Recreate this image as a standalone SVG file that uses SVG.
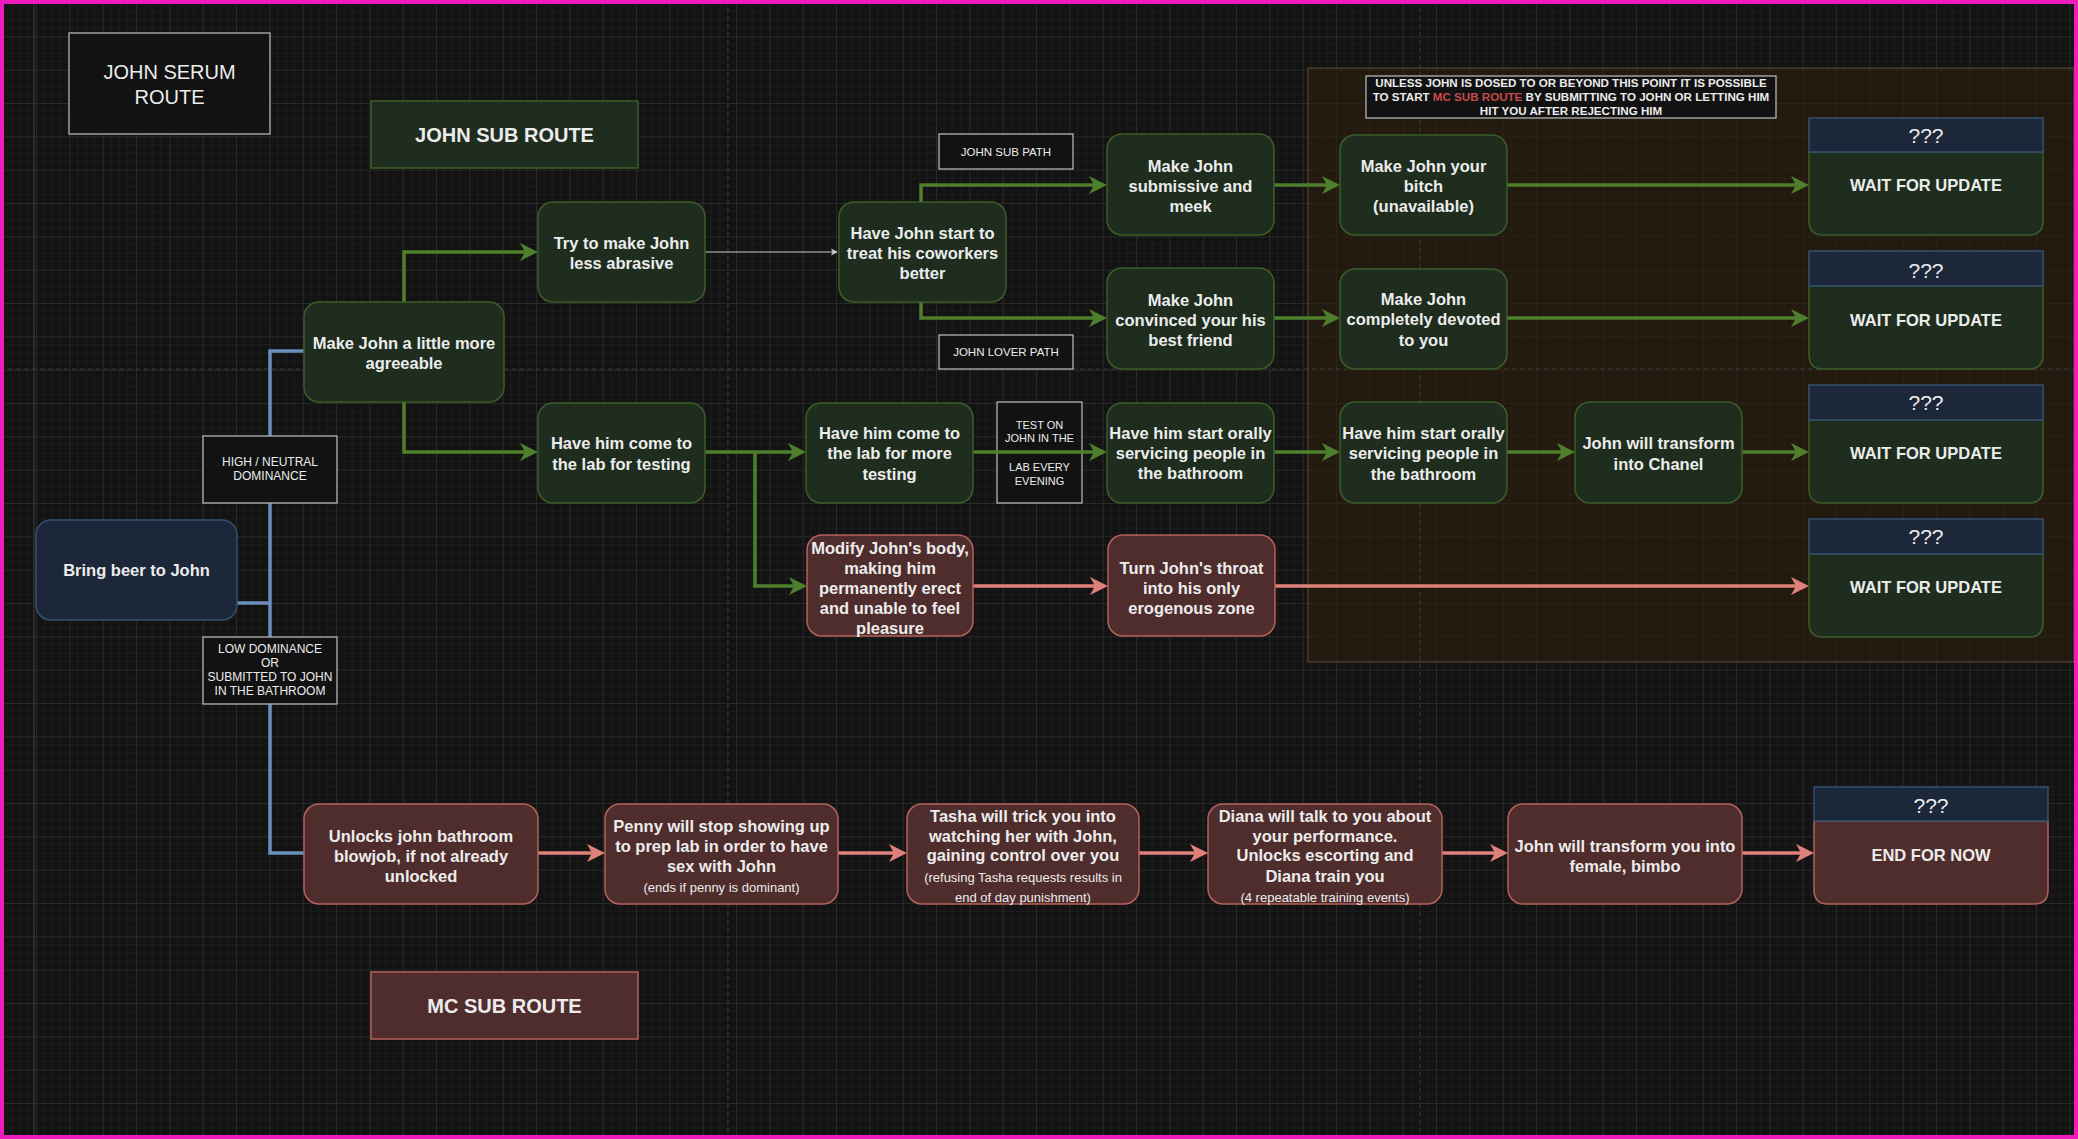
<svg xmlns="http://www.w3.org/2000/svg" width="2078" height="1139" viewBox="0 0 2078 1139">
<defs>
<pattern id="grid" width="33.333" height="33.333" patternUnits="userSpaceOnUse" x="2.67" y="3">
<rect width="33.333" height="33.333" fill="#131313"/>
<path d="M8.333,0V33.333M16.667,0V33.333M25,0V33.333M0,8.333H33.333M0,16.667H33.333M0,25H33.333" stroke="#1c1c1c" stroke-width="1" fill="none"/>
<path d="M0.5,0V33.333M0,0.5H33.333" stroke="#292929" stroke-width="1" fill="none"/>
</pattern>
<marker id="ag" markerUnits="userSpaceOnUse" markerWidth="18" markerHeight="18" refX="8" refY="9" orient="auto"><path d="M0,0L18,9L0,18L5,9Z" fill="#4d7f2d"/></marker>
<marker id="ap" markerUnits="userSpaceOnUse" markerWidth="18" markerHeight="18" refX="8" refY="9" orient="auto"><path d="M0,0L18,9L0,18L5,9Z" fill="#e0807a"/></marker>
<marker id="aw" markerUnits="userSpaceOnUse" markerWidth="8" markerHeight="8" refX="4" refY="4" orient="auto"><path d="M0,0.5L7,4L0,7.5L1.5,4Z" fill="#c8c8c8"/></marker>
<style>
.t{font-family:"Liberation Sans",Arial,Helvetica,sans-serif;fill:#ececec;text-anchor:middle}
.b{font-weight:bold;font-size:16.5px}
.s{font-size:13px}
.lbl{font-size:12px}
.g{fill:#1f2d1f;stroke:#3b5e27;stroke-width:1.5}
.p{fill:#4f2d2d;stroke:#b5625c;stroke-width:1.5}
.bl{fill:#1c2739;stroke:#34506f;stroke-width:1.5}
.k{fill:#121212;stroke:#b4b4b4;stroke-width:1.3}
.eg{fill:none;stroke:#4d7f2d;stroke-width:3.5}
.ep{fill:none;stroke:#e0807a;stroke-width:3.5}
.eb{fill:none;stroke:#6c8ebf;stroke-width:3.5}
.pg{stroke:#3a3a3a;stroke-width:1;stroke-dasharray:4 4}
</style>
</defs>
<rect x="0" y="0" width="2078" height="1139" fill="url(#grid)"/>
<line x1="34" y1="0" x2="34" y2="1139" stroke="#2b2b2b" stroke-width="2"/>

<g id="zone">
<rect x="1308" y="68" width="766" height="594" fill="#2e1f0e" fill-opacity="0.6" stroke="#4b3a30" stroke-width="1.5"/>
</g>
<g id="pagebreaks">
<line class="pg" x1="728" y1="0" x2="728" y2="1139"/>
<line class="pg" x1="1420" y1="0" x2="1420" y2="1139"/>
<line class="pg" x1="0" y1="369" x2="2078" y2="369"/>
</g>

<g id="title">
<rect class="k" x="69" y="33" width="201" height="101"/>
<text class="t" font-size="20" x="169.5" y="79">JOHN SERUM</text>
<text class="t" font-size="20" x="169.5" y="104">ROUTE</text>
</g>
<g id="john-sub-route">
<rect class="g" x="371" y="101" width="267" height="67"/>
<text class="t" font-size="20" font-weight="bold" x="504.5" y="142">JOHN SUB ROUTE</text>
</g>
<g id="mc-sub-route">
<rect class="p" x="371" y="972" width="267" height="67"/>
<text class="t" font-size="20" font-weight="bold" x="504.5" y="1013">MC SUB ROUTE</text>
</g>

<g id="label-test-on">
<rect class="k" x="997" y="402" width="85" height="101"/>
<text class="t" font-size="11" x="1039.5" y="429">TEST ON</text>
<text class="t" font-size="11" x="1039.5" y="442">JOHN IN THE</text>
<text class="t" font-size="11" x="1039.5" y="471">LAB EVERY</text>
<text class="t" font-size="11" x="1039.5" y="485">EVENING</text>
</g>

<g id="connectors">
<path class="eb" d="M237,603H270"/>
<path class="eb" d="M304,351H270V853H304"/>
<path class="eg" d="M404,302V252H528" marker-end="url(#ag)"/>
<path class="eg" d="M404,402V452H528" marker-end="url(#ag)"/>
<path class="eg" d="M705,452H796" marker-end="url(#ag)"/>
<path class="eg" d="M755,452V586H797" marker-end="url(#ag)"/>
<path d="M705,252H835" fill="none" stroke="#c8c8c8" stroke-width="1.2" marker-end="url(#aw)"/>
<path class="eg" d="M921,202V185H1097" marker-end="url(#ag)"/>
<path class="eg" d="M921,302V318H1097" marker-end="url(#ag)"/>
<path class="eg" d="M973,452H1097" marker-end="url(#ag)"/>
<path class="eg" d="M1274,185H1330" marker-end="url(#ag)"/>
<path class="eg" d="M1507,185H1799" marker-end="url(#ag)"/>
<path class="eg" d="M1274,318H1330" marker-end="url(#ag)"/>
<path class="eg" d="M1507,318H1799" marker-end="url(#ag)"/>
<path class="eg" d="M1274,452H1330" marker-end="url(#ag)"/>
<path class="eg" d="M1507,452H1565" marker-end="url(#ag)"/>
<path class="eg" d="M1742,452H1799" marker-end="url(#ag)"/>
<path class="ep" d="M973,586H1098" marker-end="url(#ap)"/>
<path class="ep" d="M1275,586H1799" marker-end="url(#ap)"/>
<path class="ep" d="M538,853H595" marker-end="url(#ap)"/>
<path class="ep" d="M838,853H897" marker-end="url(#ap)"/>
<path class="ep" d="M1139,853H1198" marker-end="url(#ap)"/>
<path class="ep" d="M1442,853H1498" marker-end="url(#ap)"/>
<path class="ep" d="M1742,853H1804" marker-end="url(#ap)"/>
</g>

<g id="label-high">
<rect class="k" x="203" y="436" width="134" height="67"/>
<text class="t lbl" x="270" y="466">HIGH / NEUTRAL</text>
<text class="t lbl" x="270" y="480">DOMINANCE</text>
</g>
<g id="label-low">
<rect class="k" x="203" y="637" width="134" height="67"/>
<text class="t lbl" x="270" y="653">LOW DOMINANCE</text>
<text class="t lbl" x="270" y="667">OR</text>
<text class="t lbl" x="270" y="681">SUBMITTED TO JOHN</text>
<text class="t lbl" x="270" y="695">IN THE BATHROOM</text>
</g>
<g id="label-sub-path">
<rect class="k" x="939" y="134" width="134" height="35"/>
<text class="t" font-size="11.5" x="1006" y="155.5">JOHN SUB PATH</text>
</g>
<g id="label-lover-path">
<rect class="k" x="939" y="335" width="134" height="34"/>
<text class="t" font-size="11.5" x="1006" y="356">JOHN LOVER PATH</text>
</g>
<g id="note-unless">
<rect class="k" x="1366" y="76" width="410" height="42"/>
<text class="t" font-size="11.6" font-weight="bold" x="1571" y="86.5">UNLESS JOHN IS DOSED TO OR BEYOND THIS POINT IT IS POSSIBLE</text>
<text class="t" font-size="11.6" font-weight="bold" x="1571" y="101">TO START <tspan fill="#c74a4a">MC SUB ROUTE</tspan> BY SUBMITTING TO JOHN OR LETTING HIM</text>
<text class="t" font-size="11.6" font-weight="bold" x="1571" y="115">HIT YOU AFTER REJECTING HIM</text>
</g>

<g id="bring-beer">
<rect class="bl" x="36" y="520" width="201" height="100" rx="15"/>
<text class="t b" x="136.5" y="576">Bring beer to John</text>
</g>
<g id="agreeable">
<rect class="g" x="304" y="302" width="200" height="100" rx="15"/>
<text class="t b" x="404" y="348.5">Make John a little more</text>
<text class="t b" x="404" y="369">agreeable</text>
</g>
<g id="less-abrasive">
<rect class="g" x="538" y="202" width="167" height="100" rx="15"/>
<text class="t b" x="621.5" y="248.5">Try to make John</text>
<text class="t b" x="621.5" y="269">less abrasive</text>
</g>
<g id="lab-testing">
<rect class="g" x="538" y="403" width="167" height="100" rx="15"/>
<text class="t b" x="621.5" y="449">Have him come to</text>
<text class="t b" x="621.5" y="470">the lab for testing</text>
</g>
<g id="treat-coworkers">
<rect class="g" x="839" y="202" width="167" height="100" rx="15"/>
<text class="t b" x="922.5" y="239">Have John start to</text>
<text class="t b" x="922.5" y="259">treat his coworkers</text>
<text class="t b" x="922.5" y="279">better</text>
</g>
<g id="submissive">
<rect class="g" x="1107" y="134" width="167" height="101" rx="15"/>
<text class="t b" x="1190.5" y="172">Make John</text>
<text class="t b" x="1190.5" y="192">submissive and</text>
<text class="t b" x="1190.5" y="212">meek</text>
</g>
<g id="best-friend">
<rect class="g" x="1107" y="268" width="167" height="101" rx="15"/>
<text class="t b" x="1190.5" y="306">Make John</text>
<text class="t b" x="1190.5" y="326">convinced your his</text>
<text class="t b" x="1190.5" y="346">best friend</text>
</g>
<g id="more-testing">
<rect class="g" x="806" y="403" width="167" height="100" rx="15"/>
<text class="t b" x="889.5" y="439">Have him come to</text>
<text class="t b" x="889.5" y="459">the lab for more</text>
<text class="t b" x="889.5" y="480">testing</text>
</g>
<g id="orally-1">
<rect class="g" x="1107" y="403" width="167" height="100" rx="15"/>
<text class="t b" x="1190.5" y="439">Have him start orally</text>
<text class="t b" x="1190.5" y="459">servicing people in</text>
<text class="t b" x="1190.5" y="479">the bathroom</text>
</g>
<g id="modify-body">
<rect class="p" x="807" y="535" width="166" height="101" rx="15"/>
<text class="t b" x="890" y="554">Modify John's body,</text>
<text class="t b" x="890" y="574">making him</text>
<text class="t b" x="890" y="594">permanently erect</text>
<text class="t b" x="890" y="614">and unable to feel</text>
<text class="t b" x="890" y="634">pleasure</text>
</g>
<g id="throat">
<rect class="p" x="1108" y="535" width="167" height="101" rx="15"/>
<text class="t b" x="1191.5" y="574">Turn John's throat</text>
<text class="t b" x="1191.5" y="594">into his only</text>
<text class="t b" x="1191.5" y="614">erogenous zone</text>
</g>
<g id="your-bitch">
<rect class="g" x="1340" y="135" width="167" height="100" rx="15"/>
<text class="t b" x="1423.5" y="172">Make John your</text>
<text class="t b" x="1423.5" y="192">bitch</text>
<text class="t b" x="1423.5" y="212">(unavailable)</text>
</g>
<g id="devoted">
<rect class="g" x="1340" y="269" width="167" height="100" rx="15"/>
<text class="t b" x="1423.5" y="305">Make John</text>
<text class="t b" x="1423.5" y="325">completely devoted</text>
<text class="t b" x="1423.5" y="346">to you</text>
</g>
<g id="orally-2">
<rect class="g" x="1340" y="402" width="167" height="101" rx="15"/>
<text class="t b" x="1423.5" y="439">Have him start orally</text>
<text class="t b" x="1423.5" y="459">servicing people in</text>
<text class="t b" x="1423.5" y="480">the bathroom</text>
</g>
<g id="chanel">
<rect class="g" x="1575" y="402" width="167" height="101" rx="15"/>
<text class="t b" x="1658.5" y="449">John will transform</text>
<text class="t b" x="1658.5" y="470">into Chanel</text>
</g>

<g id="wait-1">
<path class="g" d="M1809,152H2043V221Q2043,235 2029,235H1823Q1809,235 1809,221Z"/>
<rect class="bl" x="1809" y="118" width="234" height="34"/>
<text class="t" font-size="21" x="1926" y="142.5">???</text>
<text class="t b" x="1926" y="191">WAIT FOR UPDATE</text>
</g>
<g id="wait-2">
<path class="g" d="M1809,286H2043V355Q2043,369 2029,369H1823Q1809,369 1809,355Z"/>
<rect class="bl" x="1809" y="251" width="234" height="35"/>
<text class="t" font-size="21" x="1926" y="277.5">???</text>
<text class="t b" x="1926" y="325.5">WAIT FOR UPDATE</text>
</g>
<g id="wait-3">
<path class="g" d="M1809,420H2043V489Q2043,503 2029,503H1823Q1809,503 1809,489Z"/>
<rect class="bl" x="1809" y="385" width="234" height="35"/>
<text class="t" font-size="21" x="1926" y="409.5">???</text>
<text class="t b" x="1926" y="459">WAIT FOR UPDATE</text>
</g>
<g id="wait-4">
<path class="g" d="M1809,554H2043V623Q2043,637 2029,637H1823Q1809,637 1809,623Z"/>
<rect class="bl" x="1809" y="519" width="234" height="35"/>
<text class="t" font-size="21" x="1926" y="543.5">???</text>
<text class="t b" x="1926" y="593">WAIT FOR UPDATE</text>
</g>

<g id="unlocks-blowjob">
<rect class="p" x="304" y="804" width="234" height="100" rx="15"/>
<text class="t b" x="421" y="842">Unlocks john bathroom</text>
<text class="t b" x="421" y="862">blowjob, if not already</text>
<text class="t b" x="421" y="882">unlocked</text>
</g>
<g id="penny">
<rect class="p" x="605" y="804" width="233" height="100" rx="15"/>
<text class="t b" x="721.5" y="832">Penny will stop showing up</text>
<text class="t b" x="721.5" y="852">to prep lab in order to have</text>
<text class="t b" x="721.5" y="872">sex with John</text>
<text class="t s" x="721.5" y="891.5">(ends if penny is dominant)</text>
</g>
<g id="tasha">
<rect class="p" x="907" y="804" width="232" height="100" rx="15"/>
<text class="t b" x="1023" y="822">Tasha will trick you into</text>
<text class="t b" x="1023" y="842">watching her with John,</text>
<text class="t b" x="1023" y="861">gaining control over you</text>
<text class="t s" x="1023" y="881.5">(refusing Tasha requests results in</text>
<text class="t s" x="1023" y="901.5">end of day punishment)</text>
</g>
<g id="diana">
<rect class="p" x="1208" y="804" width="234" height="100" rx="15"/>
<text class="t b" x="1325" y="822">Diana will talk to you about</text>
<text class="t b" x="1325" y="842">your performance.</text>
<text class="t b" x="1325" y="861">Unlocks escorting and</text>
<text class="t b" x="1325" y="882">Diana train you</text>
<text class="t s" x="1325" y="901.5">(4 repeatable training events)</text>
</g>
<g id="female-bimbo">
<rect class="p" x="1508" y="804" width="234" height="100" rx="15"/>
<text class="t b" x="1625" y="852">John will transform you into</text>
<text class="t b" x="1625" y="872">female, bimbo</text>
</g>
<g id="end-for-now">
<path class="p" d="M1814,821H2048V890Q2048,904 2034,904H1828Q1814,904 1814,890Z"/>
<rect class="bl" x="1814" y="787" width="234" height="34"/>
<text class="t" font-size="21" x="1931" y="812.5">???</text>
<text class="t b" x="1931" y="861">END FOR NOW</text>
</g>

<rect x="0" y="0" width="2078" height="1139" fill="none" stroke="#f01bbd" stroke-width="8"/>
</svg>
